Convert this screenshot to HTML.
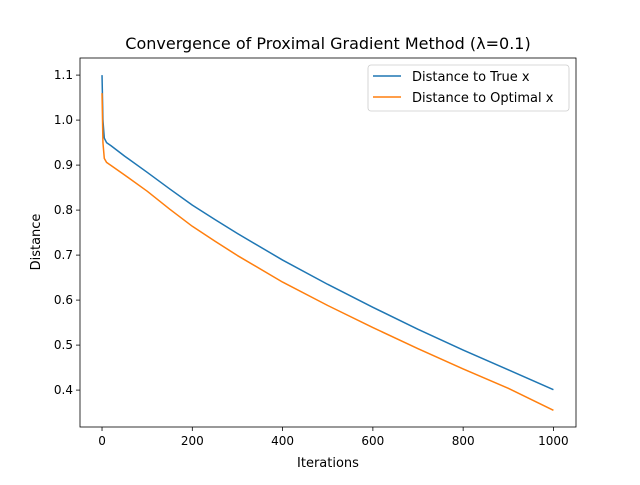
<!DOCTYPE html>
<html><head><meta charset="utf-8"><style>
body{margin:0;background:#fff;font-family:"Liberation Sans","DejaVu Sans",sans-serif;}
svg text{font-family:"DejaVu Sans","Liberation Sans",sans-serif;fill:#000}
</style></head><body>
<svg id="chart" width="640" height="480" viewBox="0 0 640 480">
<rect width="640" height="480" fill="#fff"/>
<text x="328" y="49" font-size="16" text-anchor="middle">Convergence of Proximal Gradient Method (λ=0.1)</text>
<g id="plot"></g>
<rect x="80" y="58" width="496" height="369" fill="none" stroke="#000" stroke-width="0.8"/>
<text x="328" y="467" font-size="13" text-anchor="middle">Iterations</text>
<text x="40" y="242" font-size="13" text-anchor="middle" transform="rotate(-90 40 242)">Distance</text>
<g>
<rect x="368" y="65" width="201" height="46" rx="3" fill="#fff" stroke="#ccc" stroke-width="0.8"/>
<line x1="373" y1="76" x2="401" y2="76" stroke="#1f77b4" stroke-width="1.5"/>
<text x="412" y="81" font-size="13">Distance to True x</text>
<line x1="373" y1="97" x2="401" y2="97" stroke="#ff7f0e" stroke-width="1.5"/>
<text x="412" y="102" font-size="13">Distance to Optimal x</text>
</g>
</svg>
<script>
const iterations=[0,2,5,10,20,50,100,150,200,250,300,400,500,600,700,800,900,1000];
const trueDist=[1.1,1.0,0.96,0.95,0.943,0.92,0.884,0.847,0.811,0.779,0.748,0.689,0.635,0.584,0.535,0.489,0.445,0.401];
const optDist=[1.06,0.95,0.915,0.906,0.899,0.878,0.842,0.802,0.764,0.731,0.699,0.640,0.588,0.539,0.492,0.447,0.404,0.355];
const xTicks=[0,200,400,600,800,1000];
const yTicks=[0.4,0.5,0.6,0.7,0.8,0.9,1.0,1.1];
const X0=80,X1=576,Y0=427,Y1=58,xmin=-48.8,xmax=1050,ymin=0.318,ymax=1.138;
const xs=v=>X0+(v-xmin)/(xmax-xmin)*(X1-X0);
const ys=v=>Y0-(v-ymin)/(ymax-ymin)*(Y0-Y1);
const NS="http://www.w3.org/2000/svg";
const g=document.getElementById('plot');
function mk(t,a){const e=document.createElementNS(NS,t);for(const k in a)e.setAttribute(k,a[k]);g.appendChild(e);return e;}
xTicks.forEach(v=>{
 const l=mk('line',{x1:xs(v),x2:xs(v),y1:Y0,y2:Y0+4,stroke:'#000','stroke-width':0.8});
 
 
 const t=mk('text',{x:xs(v),y:Y0+18,'font-size':12,'text-anchor':'middle'});t.textContent=v;
 
 
});
yTicks.forEach(v=>{
 const l=mk('line',{x1:X0-4,x2:X0,y1:ys(v),y2:ys(v),stroke:'#000','stroke-width':0.8});
 
 
 const t=mk('text',{x:X0-7,y:ys(v)+4,'font-size':12,'text-anchor':'end'});t.textContent=v.toFixed(1);
 
 
});
function line(vals,color,name){
 const p=mk('polyline',{points:iterations.map((x,i)=>xs(x)+','+ys(vals[i])).join(' '),fill:'none',stroke:color,'stroke-width':1.5,'stroke-linejoin':'round'});
 
 
}
line(trueDist,'#1f77b4','series-true-x');
line(optDist,'#ff7f0e','series-optimal-x');
</script>
</body></html>
